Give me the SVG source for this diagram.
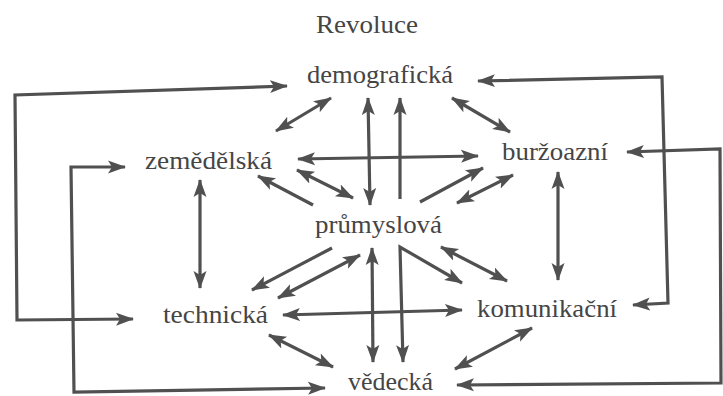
<svg xmlns="http://www.w3.org/2000/svg" width="723" height="396" viewBox="0 0 723 396">
<style>
text{font-family:"Liberation Serif","DejaVu Serif",serif;font-size:25px;fill:#454545}
.c path{fill:none;stroke:#505050;stroke-width:3.2;stroke-linejoin:miter}
.d{marker-start:url(#ah);marker-end:url(#ah)}
.s{marker-end:url(#ah)}
</style>
<defs>
<marker id="ah" markerUnits="userSpaceOnUse" markerWidth="22" markerHeight="16" refX="17" refY="7.5" orient="auto-start-reverse">
<path d="M0,1 L18,7.5 L0,14 L4,7.5 z" fill="#505050"/>
</marker>
</defs>
<rect width="723" height="396" fill="#ffffff"/>
<text x="316" y="33" textLength="102" lengthAdjust="spacingAndGlyphs">Revoluce</text>
<g id="demograficka"><text x="307" y="83" textLength="146" lengthAdjust="spacingAndGlyphs">demografická</text></g>
<g id="zemedelska"><text x="145" y="169" textLength="127" lengthAdjust="spacingAndGlyphs">zemědělská</text></g>
<g id="burzoazni"><text x="502" y="160" textLength="106" lengthAdjust="spacingAndGlyphs">buržoazní</text></g>
<g id="prumyslova"><text x="315" y="233" textLength="127" lengthAdjust="spacingAndGlyphs">průmyslová</text></g>
<g id="technicka"><text x="163" y="323" textLength="105" lengthAdjust="spacingAndGlyphs">technická</text></g>
<g id="komunikacni"><text x="477" y="317" textLength="140" lengthAdjust="spacingAndGlyphs">komunikační</text></g>
<g id="vedecka"><text x="348" y="390" textLength="85" lengthAdjust="spacingAndGlyphs">vědecká</text></g>
<g id="connectors" class="c">
<path class="d" d="M287,86 L15,95 L17,320 L133,319"/>
<path class="d" d="M125,167 L71,167 L74,392 L325,388"/>
<path class="d" d="M478,81 L662,77 L668,303 L633,305"/>
<path class="d" d="M627,152 L720,149 L721,383 L457,385"/>
<path class="d" d="M331,98 L276,131"/>
<path class="d" d="M452,98 L510,132"/>
<path class="d" d="M368,98 L370,205"/>
<path class="s" d="M400,199 L400,98"/>
<path class="d" d="M298,159 L478,156"/>
<path class="s" d="M313,205 L258,176"/>
<path class="d" d="M297,170 L353,198"/>
<path class="s" d="M420,202 L483,168"/>
<path class="d" d="M457,203 L513,175"/>
<path class="d" d="M200,180 L200,288"/>
<path class="d" d="M558,172 L558,280"/>
<path class="s" d="M332,248 L252,290"/>
<path class="d" d="M278,298 L360,255"/>
<path class="d" d="M372,248 L373,362"/>
<path class="d" d="M403,362 L400,247 L462,283"/>
<path class="d" d="M441,247 L507,281"/>
<path class="d" d="M283,315 L462,310"/>
<path class="d" d="M269,335 L333,367"/>
<path class="d" d="M532,328 L455,369"/>
</g>
</svg>
